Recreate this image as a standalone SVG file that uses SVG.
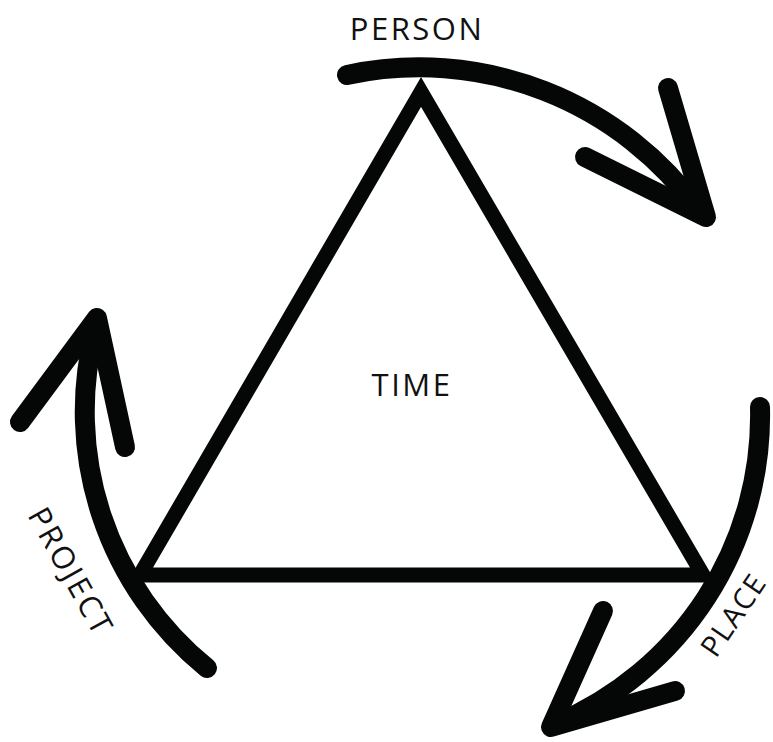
<svg xmlns="http://www.w3.org/2000/svg" width="773" height="742" viewBox="0 0 773 742">
<style>
.tri{fill:none;stroke:#050706;stroke-width:15;stroke-linejoin:miter;stroke-miterlimit:10}
.arr{fill:none;stroke:#050706;stroke-width:20;stroke-linecap:round;stroke-linejoin:round}
.lbl{font-family:"Open Sans","Liberation Sans",sans-serif;font-size:31px;fill:#111111;letter-spacing:2.5px}
</style>
<rect width="773" height="742" fill="#ffffff"/>
<g id="triangle">
<path class="tri" d="M421,92 L140,575 L703,575 Z"/>
<text class="lbl" x="412" y="396" text-anchor="middle">TIME</text>
</g>
<g id="connectors">
<path class="arr" d="M347,75 A345,345 0 0 1 700,212"/>
<path class="arr" d="M585,157 L706,217 L668,88"/>
<path class="arr" d="M760,407 A335,335 0 0 1 556,724"/>
<path class="arr" d="M603,611 L551,727 L675,691"/>
<path class="arr" d="M207,668 A330,330 0 0 1 95,330"/>
<path class="arr" d="M20,422 L97,318 L125,447"/>
</g>
<g id="person">
<text class="lbl" x="417" y="40" text-anchor="middle">PERSON</text>
</g>
<g id="place">
<text class="lbl" transform="translate(716,659) rotate(-56)" x="0" y="0" style="font-size:29px;letter-spacing:1.5px">PLACE</text>
</g>
<g id="project">
<text class="lbl" transform="translate(27,515) rotate(61)" x="0" y="0">PROJECT</text>
</g>
</svg>
